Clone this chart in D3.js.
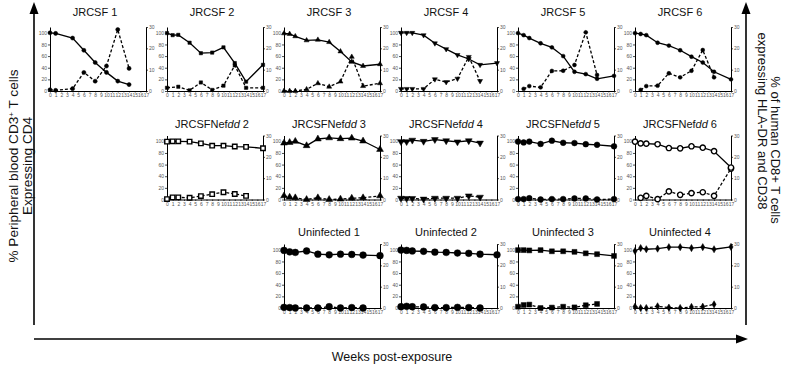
<!DOCTYPE html>
<html><head><meta charset="utf-8">
<script src="https://cdn.jsdelivr.net/npm/d3@7"></script>
<style>
body{margin:0;background:#fff}
svg{display:block}
text{font-family:"Liberation Sans",Arial,Helvetica,sans-serif}
</style>
</head><body>
<svg id="chart" width="785" height="370"></svg>
<script>
// ---------------- DATA ----------------
const weeks = [0, 1, 2, 4, 6, 8, 10, 12, 14, 17];
const xTickValues = d3.range(0, 18);
const yLeftTicks = [0, 20, 40, 60, 80, 100];
const yRightTicks = [0, 10, 20, 30];

const panelTitles = [
  "JRCSF 1", "JRCSF 2", "JRCSF 3", "JRCSF 4", "JRCSF 5", "JRCSF 6",
  "JRCSFNefdd 2", "JRCSFNefdd 3", "JRCSFNefdd 4", "JRCSFNefdd 5", "JRCSFNefdd 6",
  "Uninfected 1", "Uninfected 2", "Uninfected 3", "Uninfected 4"
];

// % CD4 (left axis, solid line)
const cd4_JRCSF1 = [100, 99, null, 91, 70, 49, 32, 17, 11, null];
const cd4_JRCSF2 = [99.5, 96, 96.5, 83, 65, 66, 75, 48, 16, 45];
const cd4_JRCSF3 = [99, 98, 94, 87, 88, 84, 68, 50, 43, 46];
const cd4_JRCSF4 = [100, 100, 100, 96, 82, 72, 62, 55, 45, 48];
const cd4_JRCSF5 = [99.5, 96, 91, 82, 75, 60, 33, 29, 21, 26];
const cd4_JRCSF6 = [99.5, 98, 96, 83, 78, 70, 59, 49, 33, 20];
const cd4_Nefdd2 = [99.5, 100, 100, 99.5, 96.5, 92.5, 92.5, 91, 90.5, 88];
const cd4_Nefdd3 = [97, 98, 100, 92.5, 104, 106, 104.5, 105.5, 100.5, 86];
const cd4_Nefdd4 = [99.5, 99.5, 102, 100, 103, 101, 99, 101, 97, null];
const cd4_Nefdd5 = [99.5, 98, 99.5, 95.5, 101, 97.5, 97, 95, 94, 91.5];
const cd4_Nefdd6 = [99.5, 96.5, 96, 95, 88.5, 88, 91.5, 89, 83, 55];
const cd4_Uninf1 = [99, 96.5, 95.5, 98, 92.5, 91.5, 92.5, 92, 91, 90];
const cd4_Uninf2 = [99.5, 99, 98, 97.5, 96, 95.5, 94.5, 94, 92.5, 91.5];
const cd4_Uninf3 = [99.5, 99.5, 99, 99.5, 97.5, 97.5, 96.5, 94, 92.5, 89.5];
const cd4_Uninf4 = [98, 103, 101, 102, 104.5, 104.5, 103, 104.5, 101, 105];

// % CD8+ HLA-DR+ CD38+ (right axis, dashed line)
const cd8_JRCSF1 = [0.6, 0.3, null, 1.1, 8.7, 4.6, 11.7, 28.8, 10.6, null];
const cd8_JRCSF2 = [1.5, null, 2, 0.3, 4, 0.5, 2.5, 12, 1.5, 1.5];
const cd8_JRCSF3 = [0, 0, 0, 0.8, 3.6, 2, 4.4, 16, 2.3, 3.6];
const cd8_JRCSF4 = [1, 1, 1, 1, 5.5, 4.2, 5.8, 16, 4.7, null];
const cd8_JRCSF5 = [null, 1, 2.3, 1.7, 9.4, 9.5, 12.2, 27.5, 7.5, null];
const cd8_JRCSF6 = [null, 0.5, 2.3, 2.5, 8.3, 6.4, 9.5, 19.2, 6.4, null];
const cd8_Nefdd2 = [0.2, 1, 1, 0.8, 1.6, 2.5, 3.4, 2.6, 1.7, null];
const cd8_Nefdd3 = [1.7, 1.1, 0.8, 0, 0.8, 0, 0.2, 0.6, 0.8, 1.7];
const cd8_Nefdd4 = [0.6, 0.5, 0.5, 0.2, 0.6, 0.6, 0.6, 1.7, 1.1, null];
const cd8_Nefdd5 = [0.2, 0.2, 0.6, 0, 0.2, 0.2, 0.5, 0.5, 0, 0.2];
const cd8_Nefdd6 = [null, 0.8, 1.7, 0.2, 3.8, 2.2, 3, 3.4, 1.7, 14.5];
const cd8_Uninf1 = [0.3, 0.2, 0, 0, 0, 0.6, 0, 0.2, 0, null];
const cd8_Uninf2 = [0.6, 0.8, 0.6, 0.5, 0.2, 0.2, 0.3, 0.2, 0, null];
const cd8_Uninf3 = [0.6, 1.4, 1.6, 0, 0.2, 0.6, 0.3, 1.3, 1.9, null];
const cd8_Uninf4 = [0.6, 0, 0, 0.8, 0.2, 0, 0.5, 0.6, 1.7, null];

const cd4Series = [cd4_JRCSF1, cd4_JRCSF2, cd4_JRCSF3, cd4_JRCSF4, cd4_JRCSF5, cd4_JRCSF6,
  cd4_Nefdd2, cd4_Nefdd3, cd4_Nefdd4, cd4_Nefdd5, cd4_Nefdd6,
  cd4_Uninf1, cd4_Uninf2, cd4_Uninf3, cd4_Uninf4];
const cd8Series = [cd8_JRCSF1, cd8_JRCSF2, cd8_JRCSF3, cd8_JRCSF4, cd8_JRCSF5, cd8_JRCSF6,
  cd8_Nefdd2, cd8_Nefdd3, cd8_Nefdd4, cd8_Nefdd5, cd8_Nefdd6,
  cd8_Uninf1, cd8_Uninf2, cd8_Uninf3, cd8_Uninf4];

// ---------------- LAYOUT / STYLE ----------------
const slots = [[0,0],[0,1],[0,2],[0,3],[0,4],[0,5],
               [1,1],[1,2],[1,3],[1,4],[1,5],
               [2,2],[2,3],[2,4],[2,5]];
// marker: [shape, open?, size(area)]
const markerStyle = [
  ["circle",false,13],["square",false,11],["triangle",false,11],["triangleDown",false,11],["circle",false,12],["circle",false,12],
  ["square",true,20],["triangle",false,20],["triangleDown",false,20],["circle",false,26],["circle",true,22],
  ["circle",false,36],["circle",false,36],["square",false,24],["diamond",false,15]
];

const PW = 96, PH = 64;
const colX = c => 50 + 117 * c;
const rowBottom = [91, 199.5, 308];
const titleBaseline = [15.5, 128, 236];

const svg = d3.select("#chart");
svg.append("rect").attr("width",785).attr("height",370).attr("fill","#fff");

const symType = {circle: d3.symbolCircle, square: d3.symbolSquare, triangle: d3.symbolTriangle,
                 triangleDown: d3.symbolTriangle, diamond: d3.symbolDiamond};

panelTitles.forEach((title, i) => {
  const [r, c] = slots[i];
  const x0 = colX(c), y0 = rowBottom[r] - PH;
  const g = svg.append("g").attr("transform", `translate(${x0},${y0})`);
  const x = d3.scaleLinear().domain([0, 17]).range([0, PW]);
  const yL = d3.scaleLinear().domain([0, 110]).range([PH, 0]);
  const yR = d3.scaleLinear().domain([0, 30]).range([PH, 0]);

  const axL = g.append("g").call(d3.axisLeft(yL).tickValues(yLeftTicks).tickSize(2).tickSizeOuter(0).tickPadding(1));
  const axR = g.append("g").attr("transform", `translate(${PW},0)`)
    .call(d3.axisRight(yR).tickValues(yRightTicks).tickSize(2).tickSizeOuter(0).tickPadding(1));
  const axB = g.append("g").attr("transform", `translate(0,${PH})`)
    .call(d3.axisBottom(x).tickValues(xTickValues).tickSize(1.5).tickSizeOuter(0).tickPadding(1));
  [axL, axR, axB].forEach(a => {
    a.selectAll("path.domain").attr("stroke", "#000").attr("stroke-width", 1);
    a.selectAll(".tick line").attr("stroke", "#000").attr("stroke-width", 0.7);
    a.selectAll("text").attr("fill", "#555").style("font-size", "5px").style("font-family", "Liberation Sans, Arial, sans-serif");
  });

  const d4 = weeks.map((w, k) => ({w, v: cd4Series[i][k]})).filter(d => d.v != null);
  const d8 = weeks.map((w, k) => ({w, v: cd8Series[i][k]})).filter(d => d.v != null);

  g.append("path").datum(d8)
    .attr("d", d3.line().x(d => x(d.w)).y(d => yR(d.v)))
    .attr("fill", "none").attr("stroke", "#000").attr("stroke-width", 1.3).attr("stroke-dasharray", "3,2");
  g.append("path").datum(d4)
    .attr("d", d3.line().x(d => x(d.w)).y(d => yL(d.v)))
    .attr("fill", "none").attr("stroke", "#000").attr("stroke-width", 1.3);

  const [shape, open, size] = markerStyle[i];
  const sym = d3.symbol().type(symType[shape]).size(size);
  const rot = shape === "triangleDown" ? " rotate(180)" : "";
  const drawMarks = (data, yS) => g.append("g").selectAll("path").data(data).join("path")
    .attr("d", sym)
    .attr("transform", d => `translate(${x(d.w)},${yS(d.v)})${rot}`)
    .attr("fill", open ? "#fff" : "#000")
    .attr("stroke", "#000").attr("stroke-width", open ? 1.4 : 0.5);
  drawMarks(d8, yR);
  drawMarks(d4, yL);

  const t = svg.append("text").attr("x", x0 + 45).attr("y", titleBaseline[r])
    .attr("text-anchor", "middle").style("font-size", "11px").attr("fill", "#111");
  const m = title.match(/^(.*Nef)(dd)(.*)$/);
  if (m) {
    t.append("tspan").text(m[1]);
    t.append("tspan").style("font-style", "italic").text(m[2]);
    t.append("tspan").text(m[3]);
  } else t.text(title);
});

// ---------------- BIG AXES ----------------
const big = svg.append("g").attr("stroke", "#000").attr("fill", "#000");
big.append("line").attr("x1", 34).attr("y1", 12).attr("x2", 34).attr("y2", 325).attr("stroke-width", 1.6);
big.append("path").attr("d", "M34,2 L29.5,14 L38.5,14 Z").attr("stroke", "none");
big.append("line").attr("x1", 746).attr("y1", 12).attr("x2", 746).attr("y2", 325).attr("stroke-width", 1.6);
big.append("path").attr("d", "M746,2 L741.5,14 L750.5,14 Z").attr("stroke", "none");
big.append("line").attr("x1", 34).attr("y1", 339).attr("x2", 738).attr("y2", 339).attr("stroke-width", 1.6);
big.append("path").attr("d", "M748,339 L736,334.5 L736,343.5 Z").attr("stroke", "none");

svg.append("text").attr("x", 392).attr("y", 361).attr("text-anchor", "middle")
  .style("font-size", "12.5px").attr("fill", "#111").text("Weeks post-exposure");

const l1 = svg.append("text").attr("transform", "translate(17.5,166) rotate(-90)")
  .attr("text-anchor", "middle").style("font-size", "13.6px").attr("fill", "#111");
l1.append("tspan").text("% Peripheral blood CD3");
l1.append("tspan").attr("dy", -4).style("font-size", "8px").text("+");
l1.append("tspan").attr("dy", 4).text(" T cells");
svg.append("text").attr("transform", "translate(32,166) rotate(-90)")
  .attr("text-anchor", "middle").style("font-size", "13.6px").attr("fill", "#111").text("Expressing CD4");

svg.append("text").attr("transform", "translate(770.5,150) rotate(90)")
  .attr("text-anchor", "middle").style("font-size", "13px").attr("fill", "#111").text("% of human CD8+ T cells");
svg.append("text").attr("transform", "translate(757.5,121) rotate(90)")
  .attr("text-anchor", "middle").style("font-size", "13px").attr("fill", "#111").text("expressing HLA-DR and CD38");
</script>
</body></html>
